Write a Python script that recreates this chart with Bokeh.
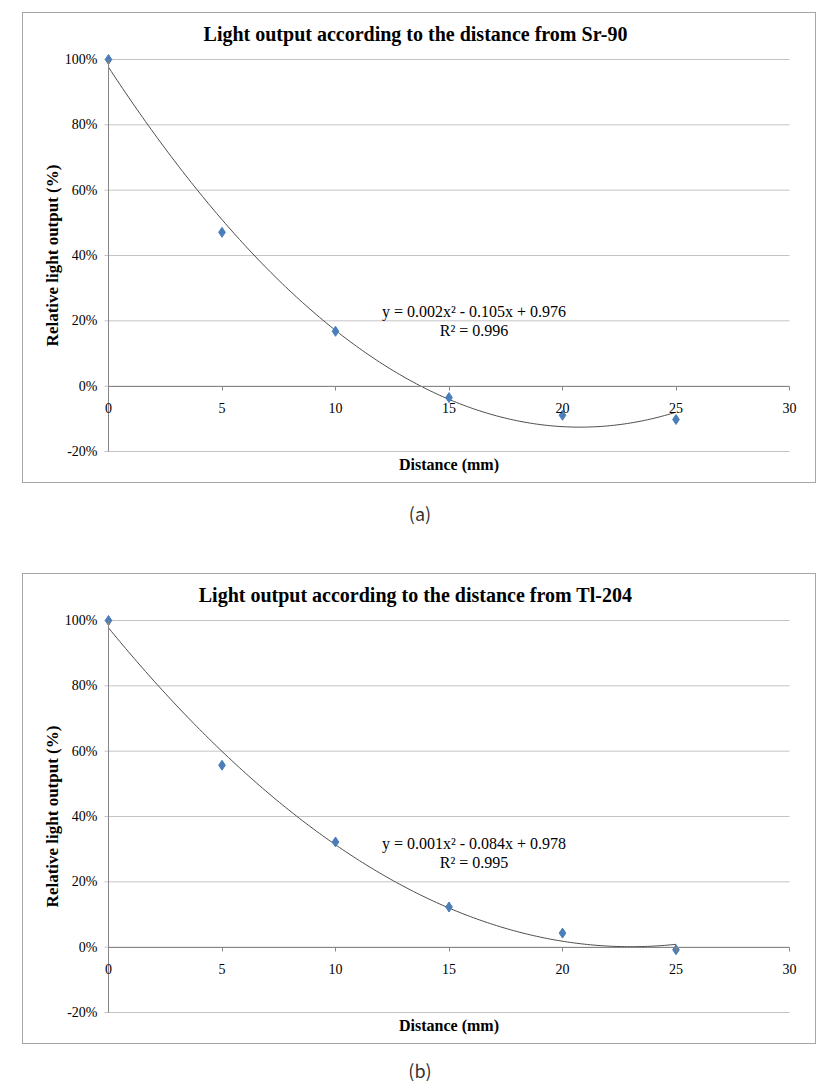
import math
import numpy as np
from bokeh.plotting import figure
from bokeh.models import (FixedTicker, Label, LabelSet, Div, Range1d,
                          ColumnDataSource)
from bokeh.layouts import column
from bokeh.embed import file_html
from bokeh.resources import INLINE

# ---- data ----
distance_mm = [0, 5, 10, 15, 20, 25]
sr90_output = [1.00, 0.471, 0.168, -0.035, -0.089, -0.102]
tl204_output = [1.00, 0.557, 0.322, 0.123, 0.043, -0.008]

chart_titles = ["Light output according to the distance from Sr-90",
                "Light output according to the distance from Tl-204"]
equations = ["y = 0.002x\u00b2 - 0.105x + 0.976", "y = 0.001x\u00b2 - 0.084x + 0.978"]
r_squared = ["R\u00b2 = 0.996", "R\u00b2 = 0.995"]
panel_labels = ["(a)", "(b)"]
eq_pos = [(16.1, 0.229, 0.171), (16.1, 0.318, 0.260)]

x_ticks = [0, 5, 10, 15, 20, 25, 30]
x_tick_labels = ["0", "5", "10", "15", "20", "25", "30"]
y_ticks = [-0.2, 0.0, 0.2, 0.4, 0.6, 0.8, 1.0]
y_tick_labels = ["-20%", "0%", "20%", "40%", "60%", "80%", "100%"]

SERIF = "Liberation Serif"
MARKER = "#4a7ebb"
AXIS = "#868686"

# ---- layout of the plotting area inside each framed chart (pixels) ----
W, H = 794, 471
PLOT_L, PLOT_R, PLOT_T, PLOT_B = 85, 28, 46, 33


def make_ranges():
    x0, x1 = x_ticks[0], x_ticks[-1]
    y0, y1 = y_ticks[0], y_ticks[-1]
    sx = (W - PLOT_L - PLOT_R) / (x1 - x0)
    sy = (H - PLOT_T - PLOT_B) / (y1 - y0)
    xr = Range1d(x0 - PLOT_L / sx, x1 + PLOT_R / sx)
    yr = Range1d(y0 - PLOT_B / sy, y1 + PLOT_T / sy)
    return xr, yr, 4.0 / sx


def make_chart(values, title, eq, r2, pos):
    xr, yr, tick_len = make_ranges()
    p = figure(width=W, height=H, output_backend="svg", toolbar_location=None,
               x_range=xr, y_range=yr, min_border=0,
               min_border_left=0, min_border_right=0, min_border_top=0,
               min_border_bottom=0, background_fill_color="white",
               border_fill_color="white", outline_line_color=None)
    p.styles = {"border": "1px solid #a6a6a6"}
    p.margin = (0, 0, 0, 22)
    p.xgrid.visible = False
    p.ygrid.visible = False

    # horizontal gridlines (with short outward tick on the left)
    p.segment(x0=[x_ticks[0] - tick_len] * len(y_ticks), x1=[x_ticks[-1]] * len(y_ticks),
              y0=y_ticks, y1=y_ticks, line_color="#c4c4c4", line_width=1)

    # x axis crossing at y = 0
    xa = p.xaxis[0]
    xa.fixed_location = 0
    xa.bounds = (x_ticks[0], x_ticks[-1])
    xa.ticker = FixedTicker(ticks=x_ticks)
    xa.minor_tick_line_color = None
    xa.major_tick_out = 4
    xa.major_tick_in = 0
    xa.axis_line_color = AXIS
    xa.major_tick_line_color = AXIS
    xa.major_label_text_color = None

    # y axis at x = 0
    ya = p.yaxis[0]
    ya.fixed_location = 0
    ya.bounds = (y_ticks[0], y_ticks[-1])
    ya.ticker = FixedTicker(ticks=y_ticks)
    ya.minor_tick_line_color = None
    ya.major_tick_out = 0
    ya.major_tick_in = 0
    ya.axis_line_color = AXIS
    ya.major_label_text_color = None

    xsrc = ColumnDataSource(dict(x=x_ticks, y=[0] * len(x_ticks), t=x_tick_labels))
    p.add_layout(LabelSet(x="x", y="y", text="t", source=xsrc, y_offset=-22,
                          text_align="center", text_baseline="middle",
                          text_font=SERIF, text_font_size="14px",
                          text_color="#000000"))
    ysrc = ColumnDataSource(dict(x=[0] * len(y_ticks), y=y_ticks, t=y_tick_labels))
    p.add_layout(LabelSet(x="x", y="y", text="t", source=ysrc, x_offset=-11,
                          text_align="right", text_baseline="middle",
                          text_font=SERIF, text_font_size="14px",
                          text_color="#000000"))

    p.add_layout(Label(x=0, y=1.0, x_offset=307, y_offset=26, text=title,
                       text_align="center", text_baseline="middle",
                       text_font=SERIF, text_font_size="20px",
                       text_font_style="bold", text_color="#000000"))
    p.add_layout(Label(x=0, y=0.4, x_offset=-56, angle=math.pi / 2,
                       text="Relative light output (%)", text_align="center",
                       text_baseline="middle", text_font=SERIF,
                       text_font_size="17px", text_font_style="bold",
                       text_color="#000000"))
    p.add_layout(Label(x=15, y=-0.2, y_offset=-13, text="Distance (mm)",
                       text_align="center", text_baseline="middle",
                       text_font=SERIF, text_font_size="16px",
                       text_font_style="bold", text_color="#000000"))

    # polynomial trend line fitted to the data (order 2)
    coef = np.polyfit(distance_mm, values, 2)
    xs = np.linspace(distance_mm[0], distance_mm[-1], 200)
    p.line(xs, np.polyval(coef, xs), line_color="#4d4d4d", line_width=1)

    p.scatter(distance_mm, values, marker="diamond", size=10,
              fill_color=MARKER, line_color=MARKER)

    for txt, yy in ((eq, pos[1]), (r2, pos[2])):
        p.add_layout(Label(x=pos[0], y=yy, text=txt, text_align="center",
                           text_baseline="middle", text_font=SERIF,
                           text_font_size="16px", text_color="#000000"))
    return p


def make_caption(txt, h, top):
    html = ('<div style="width:796px;text-align:center;margin-top:%dpx;'
            'line-height:24px;font-size:18px;font-family:\'Noto Sans CJK KR\';'
            'color:#333333;">%s</div>' % (top, txt))
    return Div(text=html, width=796, height=h, margin=(0, 0, 0, 22))


pa = make_chart(sr90_output, chart_titles[0], equations[0], r_squared[0], eq_pos[0])
pa.margin = (12, 0, 0, 22)
pb = make_chart(tl204_output, chart_titles[1], equations[1], r_squared[1], eq_pos[1])

layout = column(pa, make_caption(panel_labels[0], 90, 18), pb,
                make_caption(panel_labels[1], 32, 14), spacing=0)

open("out.html", "w").write(file_html(layout, INLINE))
